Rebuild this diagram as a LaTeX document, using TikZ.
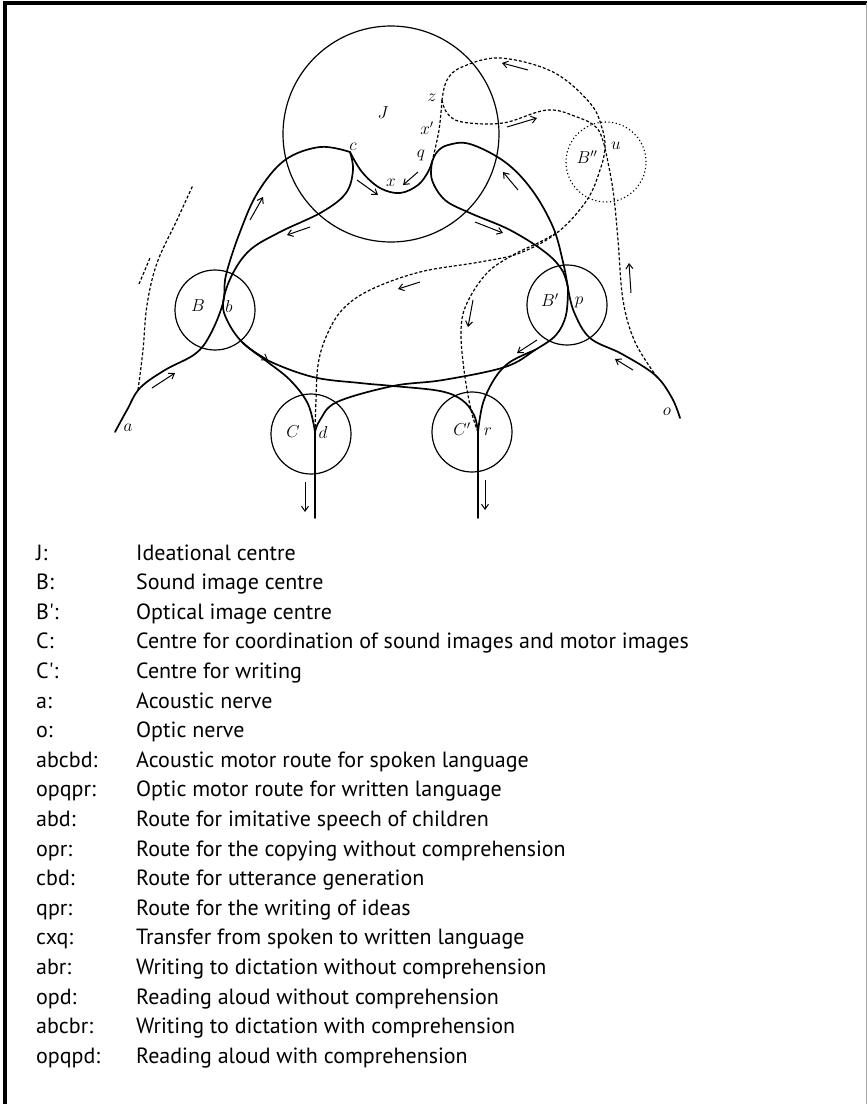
\documentclass[tikz,border=0pt]{standalone}
\usepackage{fontspec}
\setsansfont{PT Sans}
\usetikzlibrary{arrows.meta}
\begin{document}
\begin{tikzpicture}[x=1pt,y=-1pt,
  path/.style={line width=1.7pt,line join=round,line cap=round},
  ring/.style={circle,draw,line width=1.2pt,inner sep=0pt,minimum size=80pt},
  dline/.style={line width=1.2pt,dash pattern=on 3pt off 2pt},
  dring/.style={circle,draw,line width=1.1pt,dash pattern=on 1.2pt off 2.5pt,inner sep=0pt,minimum size=80pt},
  harp/.style={line width=1pt,-{Straight Barb[length=5pt,width=7pt]}},
  lab/.style={inner sep=0pt,font=\fontsize{17}{17}\selectfont},
  key/.style={anchor=base west,inner sep=0pt,font=\sffamily\fontsize{22}{22}\selectfont}]
\useasboundingbox (0,0) rectangle (867,1104);
% frame
\draw[line width=4pt] (5,1104) -- (5,3) -- (867,3);
\draw[line width=0.8pt,gray!70] (866,3) -- (866,1104);
% circles
\node[ring,minimum size=216pt] (J) at (391,134) {};
\node[ring] (B) at (215,310) {};
\node[ring] (Bp) at (567,305) {};
\node[ring] (C) at (311,434) {};
\node[ring] (Cp) at (472,432) {};
\node[dring] (Bpp) at (606,162) {};
% points
\coordinate (a) at (115,432);
\coordinate (b) at (223,303);
\coordinate (c) at (350,152);
\coordinate (x) at (400,193);
\coordinate (q) at (432,162);
\coordinate (p) at (568,288);
\coordinate (o) at (680,418);
\coordinate (d) at (315,432);
\coordinate (r) at (478,432);
\coordinate (z) at (442,100);
\coordinate (u) at (605,148);
\coordinate (dout) at (315,518);
\coordinate (rout) at (478,518);
\coordinate (ad) at (138,390);
\coordinate (ae) at (193,185);
\coordinate (om) at (657,377);
\coordinate (rm) at (558,232);
% solid routes
\draw[path] plot[smooth,tension=0.6] coordinates {(a) (127,410) (140,388) (165,370) (195,354) (210,335) (b) (226,275) (240,232) (258,192) (285,160) (320,147) (c)};
\draw[path] plot[smooth,tension=0.6] coordinates {(c) (353,170) (346,193) (322,212) (280,232) (250,250) (232,275) (b) (228,322) (242,342) (265,360) (290,380) (308,404) (d)};
\draw[path] plot[smooth,tension=0.6] coordinates {(242,342) (267,360) (313,377) (360,383) (393,386) (440,391) (462,400) (474,415) (r)};
\draw[path] plot[smooth,tension=0.6] coordinates {(p) (566,315) (556,335) (535,350) (505,367) (443,380) (393,386) (337,402) (320,420) (d)};
\draw[path] plot[smooth,tension=0.6] coordinates {(535,350) (510,362) (495,378) (483,403) (r)};
\draw[path] plot[smooth,tension=0.6] coordinates {(o) (672,398) (655,375) (622,354) (590,338) (574,312) (p)};
\draw[path] plot[smooth,tension=0.6] coordinates {(p) (563,262) (553,227) (532,190) (505,162) (470,144) (448,145) (437,152) (q)};
\draw[path] plot[smooth,tension=0.6] coordinates {(q) (432,180) (445,200) (470,213) (510,230) (545,252) (562,270) (p)};
\draw[path] plot[smooth,tension=0.6] coordinates {(c) (362,172) (380,188) (400,193) (418,185) (428,172) (q)};
\draw[path] (d) -- (dout);
\draw[path] (r) -- (rout);
% dashed routes
\draw[dline] plot[smooth,tension=0.6] coordinates {(ad) (143,350) (147,305) (157,263) (177,220) (ae)};
\draw[dline] (139,284) -- (150,258);
\draw[dline] plot[smooth,tension=0.6] coordinates {(d) (316,400) (318,365) (326,337) (342,310) (370,290) (420,272) (480,262) (520,253) (rm) (587,200) (600,170) (u) (602,128) (590,103) (553,72) (500,58) (462,67) (447,80) (z)};
\draw[dline] plot[smooth,tension=0.6] coordinates {(z) (439,130) (q)};
\draw[dline] plot[smooth,tension=0.6] coordinates {(z) (447,113) (462,122) (503,123) (547,110) (577,117) (597,128) (u)};
\draw[dline] plot[smooth,tension=0.6] coordinates {(r) (471,410) (464,370) (461,330) (467,303) (487,273) (513,255) (540,242) (rm)};
\draw[dline] plot[smooth,tension=0.6] coordinates {(om) (635,342) (623,300) (618,240) (613,190) (u)};
% direction marks
\draw[harp] (152,388) -- (175,373);
\draw[harp] (250,220) -- (263,197);
\draw[harp] (310,227) -- (287,235);
\draw[harp] (247,347) -- (268,360);
\draw[harp] (357,180) -- (378,195);
\draw[harp] (418,172) -- (403,185);
\draw[harp] (518,190) -- (503,172);
\draw[harp] (475,222) -- (503,233);
\draw[harp] (537,340) -- (517,353);
\draw[harp] (633,370) -- (615,359);
\draw[harp] (528,70) -- (502,63);
\draw[harp] (507,127) -- (537,118);
\draw[harp] (420,282) -- (398,289);
\draw[harp] (473,300) -- (468,327);
\draw[harp] (631,293) -- (629,263);
\draw[harp] (305,482) -- (305,512);
\draw[harp] (485,480) -- (485,510);
% diagram labels
\node[lab] (lJ) at (383,113) {$J$};
\node[lab] (lB) at (198,306) {$B$};
\node[lab] (lb) at (229,306) {$b$};
\node[lab] (lBp) at (550,300) {$B'$};
\node[lab] (lp) at (579,302) {$p$};
\node[lab] (lC) at (293,432) {$C$};
\node[lab] (ld) at (323,432) {$d$};
\node[lab] (lCp) at (462,429) {$C'$};
\node[lab] (lr) at (488,432) {$r$};
\node[lab] (lBpp) at (587,157) {$B''$};
\node[lab] (lu) at (616,146) {$u$};
\node[lab] (lz) at (432,98) {$z$};
\node[lab] (lxp) at (427,128) {$x'$};
\node[lab] (lq) at (421,155) {$q$};
\node[lab] (lx) at (391,183) {$x$};
\node[lab] (lc) at (353,147) {$c$};
\node[lab] (la) at (128,428) {$a$};
\node[lab] (lo) at (667,412) {$o$};
% legend
\foreach \k/\t [count=\i from 0] in {
 J:/Ideational centre,
 B:/Sound image centre,
 {B\textquotesingle:}/Optical image centre,
 C:/Centre for coordination of sound images and motor images,
 {C\textquotesingle:}/Centre for writing,
 a:/Acoustic nerve,
 o:/Optic nerve,
 abcbd:/Acoustic motor route for spoken language,
 opqpr:/Optic motor route for written language,
 abd:/Route for imitative speech of children,
 opr:/Route for the copying without comprehension,
 cbd:/Route for utterance generation,
 qpr:/Route for the writing of ideas,
 cxq:/Transfer from spoken to written language,
 abr:/Writing to dictation without comprehension,
 opd:/Reading aloud without comprehension,
 abcbr:/Writing to dictation with comprehension,
 opqpd:/Reading aloud with comprehension}{
  \node[key] (k\i) at (36,{560+29.6*\i}) {\k};
  \node[key] (t\i) at (136,{560+29.6*\i}) {\t};
}
\end{tikzpicture}
\end{document}
